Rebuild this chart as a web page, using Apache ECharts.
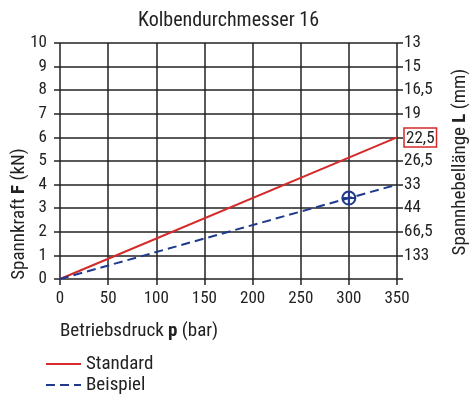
<!DOCTYPE html>
<html><head><meta charset="utf-8">
<script src="https://cdn.jsdelivr.net/npm/echarts@6/dist/echarts.min.js"></script>
<style>html,body{margin:0;padding:0;background:#fff}#c{width:473px;height:400px}</style>
</head><body><div id="c"></div>
<script>
const FONT = '"Liberation Sans Narrow", "Roboto Condensed", Roboto, "Liberation Sans", sans-serif';
const pressure = [0, 350];
const standard = [0, 6];
const beispiel = [0, 4];
const examplePoint = [300, 3.43];
const xTicks = [0, 50, 100, 150, 200, 250, 300, 350];
const forceTicks = [0, 1, 2, 3, 4, 5, 6, 7, 8, 9, 10];
const leverLabels = ['', '133', '66,5', '44', '33', '26,5', '22,5', '19', '16,5', '15', '13'];
const highlighted = '22,5';

const chart = echarts.init(document.getElementById('c'));
const FS = 17;   // tick labels
const TS = 19;   // names
const axisText = {color: '#222', fontSize: FS, fontFamily: FONT};
chart.setOption({
  animation: false,
  title: {text: 'Kolbendurchmesser 16', left: 133, top: 6,
    textStyle: {fontSize: 20, fontWeight: 'normal', color: '#222', fontFamily: FONT}},
  grid: {left: 60, right: 76, top: 43, bottom: 121},
  legend: {orient: 'vertical', left: 45, top: 354, padding: 0, itemWidth: 35, itemHeight: 12, itemGap: 1,
    height: 46,
    itemStyle: {opacity: 0},
    textStyle: {fontSize: TS, lineHeight: 20, color: '#222', fontFamily: FONT},
    data: ['Standard', 'Beispiel']},
  xAxis: {type: 'value', min: 0, max: 350, interval: 50,
    axisLine: {show: false}, axisTick: {show: true, length: 6, lineStyle: {color: '#222', width: 1.5}},
    splitLine: {show: true, lineStyle: {color: '#222', width: 1.5}},
    axisLabel: Object.assign({margin: 11, formatter: v => xTicks.includes(v) ? String(v) : ''}, axisText)},
  yAxis: [
    {type: 'value', min: 0, max: 10, interval: 1,
      axisLine: {show: false}, axisTick: {show: true, length: 6, lineStyle: {color: '#222', width: 1.5}},
      splitLine: {show: true, lineStyle: {color: '#222', width: 1.5}},
      axisLabel: Object.assign({margin: 13, formatter: v => forceTicks.includes(v) ? String(v) : ''}, axisText)},
    {type: 'value', min: 0, max: 10, interval: 1, position: 'right',
      axisLine: {show: false}, axisTick: {show: true, length: 6, lineStyle: {color: '#222', width: 1.5}},
      splitLine: {show: false},
      axisLabel: Object.assign({margin: 7, formatter: v => {
        const s = leverLabels[Math.round(v)] || '';
        return s === highlighted ? '{box|' + s + '}' : s;
      }, rich: {box: {borderColor: '#d42a2a', borderWidth: 1.5, padding: [2, 2, 0, 2], fontSize: FS, color: '#222', fontFamily: FONT}}}, axisText)}
  ],
  graphic: [
    {type: 'text', left: 60, top: 322, style: {text: 'Betriebsdruck {b|p} (bar)', fontSize: TS, fill: '#222', fontFamily: FONT,
      rich: {b: {fontWeight: 'bold', fontSize: TS, fontFamily: FONT, fill: '#222'}}}},
    {type: 'text', x: 19, y: 214, rotation: Math.PI / 2, style: {text: 'Spannkraft {b|F} (kN)', fontSize: TS, fill: '#222', fontFamily: FONT,
      align: 'center', verticalAlign: 'middle', rich: {b: {fontWeight: 'bold', fontSize: TS, fontFamily: FONT, fill: '#222'}}}},
    {type: 'text', x: 460, y: 162, rotation: Math.PI / 2, style: {text: 'Spannhebellänge {b|L} (mm)', fontSize: TS, fill: '#222', fontFamily: FONT,
      align: 'center', verticalAlign: 'middle', rich: {b: {fontWeight: 'bold', fontSize: TS, fontFamily: FONT, fill: '#222'}}}}
  ],
  series: [
    {name: 'Standard', type: 'line', symbol: 'none', data: pressure.map((p, i) => [p, standard[i]]),
      lineStyle: {color: '#d42a2a', width: 2}, itemStyle: {color: '#d42a2a'}, z: 5},
    {name: 'Beispiel', type: 'line', symbol: 'none', data: pressure.map((p, i) => [p, beispiel[i]]),
      lineStyle: {color: '#1f3a8a', width: 2, type: [9, 5]}, itemStyle: {color: '#1f3a8a'}, z: 5},
    {type: 'custom', data: [examplePoint], z: 6,
      renderItem: (params, api) => {
        const c = api.coord([api.value(0), api.value(1)]);
        const r = 6.5;
        const st = {stroke: '#1f3a8a', lineWidth: 2, fill: 'none'};
        return {type: 'group', children: [
          {type: 'circle', shape: {cx: c[0], cy: c[1], r: r}, style: st},
          {type: 'line', shape: {x1: c[0] - r, y1: c[1], x2: c[0] + r, y2: c[1]}, style: st},
          {type: 'line', shape: {x1: c[0], y1: c[1] - r, x2: c[0], y2: c[1] + r}, style: st}
        ]};
      }}
  ]
});
</script></body></html>
